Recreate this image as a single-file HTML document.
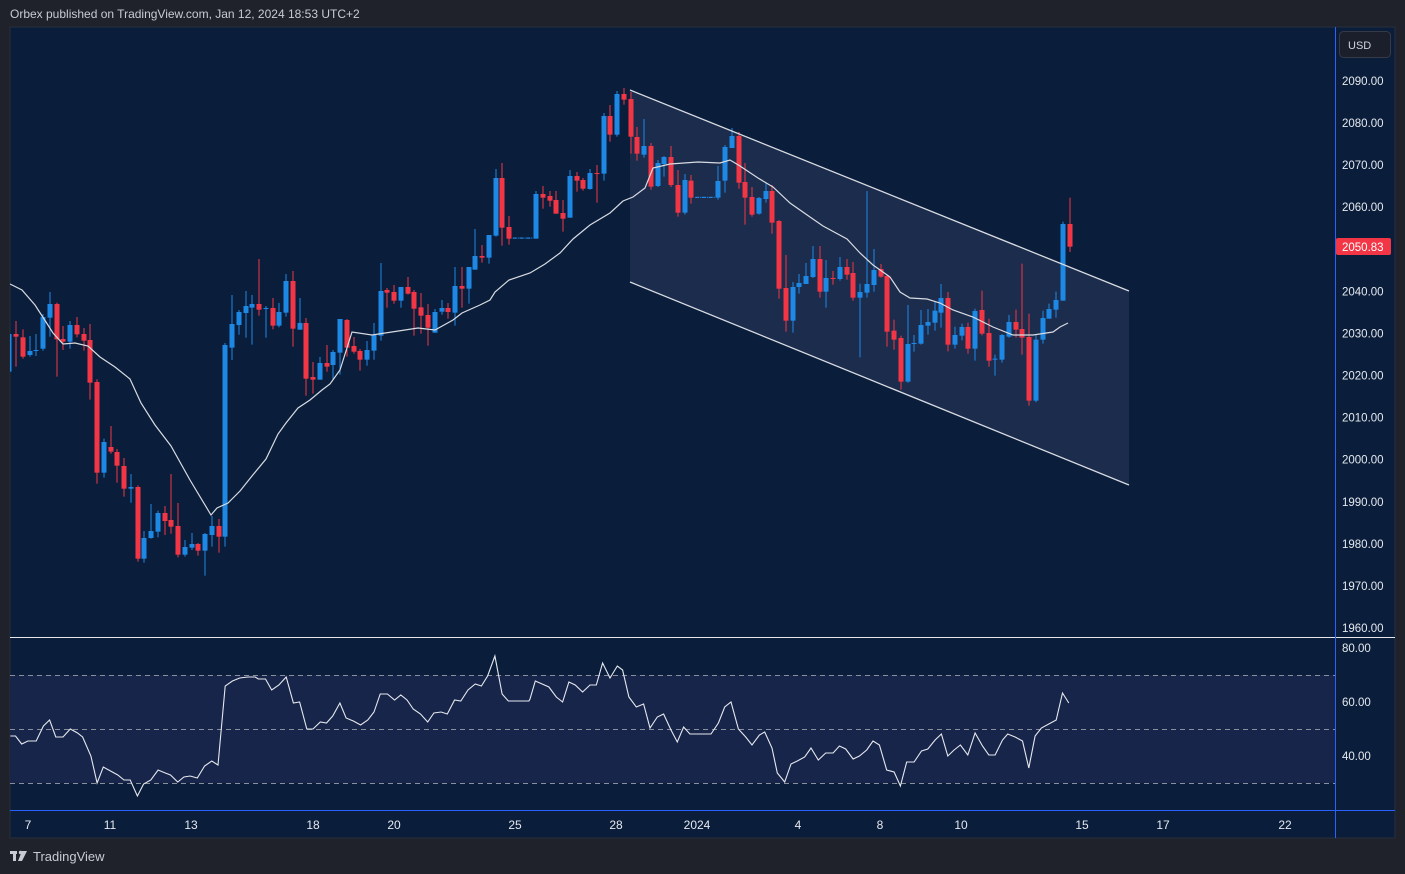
<!DOCTYPE html>
<html><head><meta charset="utf-8"><style>
html,body{margin:0;padding:0;background:#1f222b;width:1405px;height:874px;overflow:hidden;font-family:"Liberation Sans",sans-serif}
</style></head><body>
<svg id="s" width="1405" height="874" xmlns="http://www.w3.org/2000/svg" style="position:absolute;left:0;top:0">
<rect x="0" y="0" width="1405" height="874" fill="#1f222b"/>
<text x="10" y="18" fill="#c8cbd3" font-size="12" font-family="Liberation Sans, sans-serif">Orbex published on TradingView.com, Jan 12, 2024 18:53 UTC+2</text>
<rect x="10" y="27" width="1385" height="811" fill="#0a1e3b" stroke="#2a2e39" stroke-width="1"/>
<defs><clipPath id="cp"><rect x="10" y="27" width="1325" height="610"/></clipPath>
<clipPath id="cr"><rect x="10" y="638" width="1325" height="172"/></clipPath></defs>
<polygon points="630,90 1129,291 1129,485 630,282" fill="#1c2c4d"/>
<g id="cand" clip-path="url(#cp)"></g>
<line x1="630" y1="90" x2="1129" y2="291" stroke="#d8dbe2" stroke-width="1.3"/>
<line x1="630" y1="282" x2="1129" y2="485" stroke="#d8dbe2" stroke-width="1.3"/>
<polyline id="ma" fill="none" stroke="#d8dbe2" stroke-width="1.2" clip-path="url(#cp)"/>
<rect x="10" y="675" width="1325" height="108" fill="#17254a"/>
<g stroke="#8a8f9c" stroke-width="1" stroke-dasharray="5,4">
<line x1="10" y1="675.5" x2="1335" y2="675.5"/><line x1="10" y1="729.5" x2="1335" y2="729.5"/><line x1="10" y1="783.5" x2="1335" y2="783.5"/></g>
<polyline id="rsi" fill="none" stroke="#e6e8ee" stroke-width="1.1" clip-path="url(#cr)"/>
<line x1="10" y1="637.5" x2="1395" y2="637.5" stroke="#e6e8ee" stroke-width="1"/>
<line x1="1335.5" y1="27" x2="1335.5" y2="838" stroke="#2962ff" stroke-width="1"/>
<line x1="10" y1="810.5" x2="1395" y2="810.5" stroke="#2962ff" stroke-width="1"/>
<rect x="1339.5" y="31.5" width="51" height="26" rx="4" fill="#1b1f2b" stroke="#363a45"/>
<text x="1348" y="49" fill="#d1d4dc" font-size="11">USD</text>
<g id="pl" fill="#e6e8ee" font-size="11.5"></g>
<rect x="1336" y="238" width="55" height="17" rx="2" fill="#f23645"/>
<text x="1342" y="251" fill="#ffffff" font-size="11.5">2050.83</text>
<g id="tl" fill="#e6e8ee" font-size="12" text-anchor="middle"></g>
<g fill="#c8cbd3"><rect x="10" y="851" width="7" height="3"/><rect x="13" y="851" width="3" height="10"/><circle cx="20.5" cy="852.5" r="1.7"/><polygon points="22,851 27,851 22,861 18,861"/></g>
<text x="33" y="861" fill="#c8cbd3" font-size="13">TradingView</text>
</svg>
<script>
var NS="http://www.w3.org/2000/svg";
function el(t,a,p){var e=document.createElementNS(NS,t);for(var k in a)e.setAttribute(k,a[k]);p.appendChild(e);return e;}
var X=function(i){return 16+6.754*i;};
var g4=[[-1,'b',252,365,240,370],[0,'r',252,260,213,350],[1,'r',262,320,238,326],[2,'b',303,315,258,320],[3,'b',300,302,252,318],[4,'b',201,296,192,302],[5,'b',162,203,126,260],[6,'r',162,268,158,380],[7,'r',267,275,228,300],[8,'b',225,275,213,296],[9,'r',225,253,201,262],[10,'r',252,272,234,302],[11,'r',270,398,222,449],[12,'r',396,668,388,701],[13,'b',576,668,566,683],[14,'r',591,605,528,611],[15,'r',606,647,597,698],[16,'r',648,716,624,740],[17,'b',711,716,672,758],[18,'r',711,926,706,935],[19,'b',864,926,843,938],[20,'b',843,864,762,866],[21,'b',789,845,782,862],[22,'r',789,813,768,855],[23,'r',810,830,672,851],[24,'r',828,914,759,922],[25,'b',891,914,870,920],[26,'b',882,893,849,900],[27,'r',882,902,879,917],[28,'b',852,902,849,977],[29,'b',828,855,798,890],[30,'r',828,860,807,908],[31,'b',285,860,279,890],[32,'b',222,293,135,330],[33,'b',186,225,180,254],[34,'b',168,189,123,263],[35,'b',162,173,135,284],[36,'r',162,179,27,197],[37,'b',174,176,168,263],[38,'r',174,227,144,238],[39,'b',186,227,159,232],[40,'b',93,188,72,200],[41,'r',93,236,63,290],[42,'b',219,239,144,239],[43,'r',219,386,204,437],[44,'r',381,389,336,431],[45,'b',339,389,321,389],[46,'r',339,350,285,365]];
var g5=[[47,'b',816,855,810,900],[48,'b',717,818,717,884],[49,'r',720,803,717,830],[50,'r',798,815,771,821],[51,'r',813,839,807,872],[52,'b',810,839,783,857],[53,'b',765,812,729,839],[54,'b',633,767,549,782],[55,'r',630,638,624,683],[56,'r',636,662,615,671],[57,'b',621,662,621,683],[58,'r',621,641,591,644],[59,'r',636,686,630,767],[60,'r',682,707,639,761],[61,'r',705,743,672,797],[62,'b',696,758,687,758],[63,'b',684,695,660,704],[64,'r',684,696,669,716],[65,'b',618,698,561,737],[66,'r',618,626,561,683],[67,'b',561,626,561,671],[68,'b',528,569,447,569],[69,'r',528,533,495,548],[70,'b',465,533,465,551],[71,'b',294,467,267,470],[72,'r',294,443,249,497],[73,'r',441,476,408,494],[77,'b',342,476,333,476],[78,'r',342,353,318,386],[79,'r',348,362,333,380],[80,'r',360,401,333,401],[81,'r',399,416,360,455],[82,'b',288,413,270,413],[83,'r',288,302,276,335],[84,'r',300,326,294,332],[85,'b',279,327,267,329],[86,'r',279,281,255,368],[87,'b',108,281,99,302],[88,'r',108,164,75,185],[89,'b',42,164,33,170],[90,'r',42,59,24,74],[91,'r',57,170,36,221],[92,'r',171,221,141,242],[93,'b',198,224,117,233],[94,'r',198,320,189,329],[95,'b',249,318,240,321],[96,'b',231,252,228,290],[97,'r',231,315,198,321],[98,'r',315,398,270,410],[99,'b',300,398,282,404],[100,'r',302,353,285,371],[104,'b',303,353,258,359],[105,'b',201,302,195,338],[106,'b',168,204,144,204],[107,'r',168,308,156,326],[108,'r',306,353,249,434],[109,'r',351,404,321,410],[110,'b',354,401,351,404],[111,'b',333,357,309,368],[112,'r',333,428,315,461],[113,'r',423,626,420,656],[114,'r',624,722,525,755],[115,'b',621,722,606,758],[116,'b',609,621,582,641],[117,'b',588,612,549,612],[118,'b',537,591,498,594],[119,'r',537,635,498,653],[120,'b',594,635,540,683],[121,'r',594,596,573,614],[122,'b',561,597,531,602],[123,'r',561,584,537,599],[124,'r',579,653,546,662],[125,'b',636,653,611,832],[126,'b',612,638,333,653],[127,'b',570,615,507,635],[128,'r',567,590,552,593],[129,'r',588,755,585,800],[130,'r',752,779,719,809],[131,'r',774,905,767,929],[132,'b',792,905,675,908],[133,'b',789,791,765,815],[134,'b',735,791,690,794],[135,'b',726,737,687,764],[136,'b',692,728,665,752],[137,'b',654,698,612,743],[138,'r',654,794,636,814],[139,'b',765,794,740,806],[140,'b',741,767,731,781],[141,'r',741,806,728,821],[142,'b',693,806,686,842],[143,'r',690,761,632,766],[144,'r',759,842,716,860],[145,'b',836,838,824,887],[146,'b',765,839,762,848],[147,'b',726,770,705,773],[148,'r',726,749,689,773],[149,'r',747,773,551,824],[150,'r',771,962,701,977],[151,'b',779,962,762,967],[152,'b',714,779,692,791],[153,'b',687,716,671,716],[154,'b',660,689,635,713],[155,'b',432,662,425,662],[156,'r',432,500,353,516]];
var G=document.getElementById('cand');
function draw(arr,off){arr.forEach(function(d){var x=X(d[0]);var col=d[1]=='b'?'#1e88e5':'#f23645';
var bt=off+d[2]/3,bb=off+d[3]/3,wt=off+d[4]/3,wb=off+d[5]/3;
el('rect',{x:Math.round(x)-0.5,y:wt,width:1,height:Math.max(1,wb-wt),fill:col},G);
el('rect',{x:Math.round(x)-2.5,y:bt,width:5,height:Math.max(1,bb-bt),fill:col},G);});}
draw(g4,250);draw(g5,80);
[[74,238],[75,238],[76,238],[101,197.3],[102,197.3],[103,197.3]].forEach(function(d){var x=X(d[0]);
el('rect',{x:x-3,y:d[1]-0.5,width:4,height:1.2,fill:'#1e88e5'},G);el('rect',{x:x+2,y:d[1]-0.5,width:1,height:1.2,fill:'#1e88e5'},G);});
var ma="10,284 22,290 35,305 46,322 53,333 63,344 75,343 88,346 100,357 115,367 130,379 141,403 155,425 171,446 190,480 211,515 217,508 228,503 240,491 252,476 266,459 278,434 286,423 298,408 310,400 322,390 330,384 340,370 352,332 372,335 405,330 418,328 435,330 453,320 462,313 480,305 490,300 495,292 509,280 530,273 545,264 560,253 573,239 590,225 610,213 623,201 633,197 645,188 653,168 670,164 698,162 720,163 730,160 740,166 758,178 773,187 790,203 810,217 823,226 847,239 860,253 873,265 890,277 900,292 910,298 927,299 940,303 953,310 973,317 993,327 1013,335 1033,335 1053,332 1060,327 1068,323";
document.getElementById('ma').setAttribute('points',ma);
var r1="10,736 15,736 21,744 27,741 35,741 42,726 48,720 54,737 61,737 68,729 75,733 80,737 88,756 94,783 100,767 107,771 114,775 120,780 126,780 133,796 139,784 146,780 153,770 160,773 165,775 172,782 178,777 184,776 191,778 198,766 205,761 211,765 218,686 225,681 232,678 240,677 247,677 250,679 257,679 263,690 270,685 277,677 284,703 290,702 297,729 303,729 310,722 316,723 322,716 329,703 335,718 342,721 349,725 356,720 362,712 368,694 375,694 382,700 388,695 394,700 400,709 407,714 414,722 420,713 427,712 433,714 440,700 446,701 453,690 460,684 466,686 472,676 479,656 486,694 492,701 512,701";
var r2="530,699 535,681 548,687 555,697 561,702 567,682 573,685 580,692 587,685 593,685 599,663 606,678 613,666 618,670 624,697 631,707 638,704 644,728 651,717 657,714 664,730 670,742 676,727 682,734 702,734 709,723 715,707 721,702 728,729 735,737 741,745 748,735 753,732 760,748 765,773 772,782 778,764 784,761 791,757 797,748 804,760 811,753 818,753 824,746 830,749 837,759 843,756 850,750 856,741 862,745 869,770 876,772 882,786 888,762 895,762 902,751 908,749 915,740 921,734 927,756 933,750 939,745 946,755 953,733 960,746 966,755 972,755 979,740 984,734 991,737 998,741 1004,768 1010,736 1016,728 1023,724 1030,720 1036,693 1042,703";
var pts=[];
r1.split(' ').forEach(function(p){var a=p.split(',');pts.push((a[0]*1.0331).toFixed(1)+','+a[1]);});
r2.split(' ').forEach(function(p){var a=p.split(',');pts.push((530+(a[0]-530)*1.0523).toFixed(1)+','+a[1]);});
document.getElementById('rsi').setAttribute('points',pts.join(' '));
var PL=document.getElementById('pl');
for(var p=2090;p>=1960;p-=10){var y=81+(2090-p)*4.208;if(Math.abs(y-246)<8)continue;var t=el('text',{x:1342,y:y+4},PL);t.textContent=p+'.00';}
[[80,648],[60,702],[40,756]].forEach(function(d){var t=el('text',{x:1342,y:d[1]+4},PL);t.textContent=d[0]+'.00';});
var TL=document.getElementById('tl');
[['7',28],['11',110],['13',191],['18',313],['20',394],['25',515],['28',616],['2024',697],['4',798],['8',880],['10',961],['15',1082],['17',1163],['22',1285]].forEach(function(d){var t=el('text',{x:d[1],y:829},TL);t.textContent=d[0];});
</script>
</body></html>
